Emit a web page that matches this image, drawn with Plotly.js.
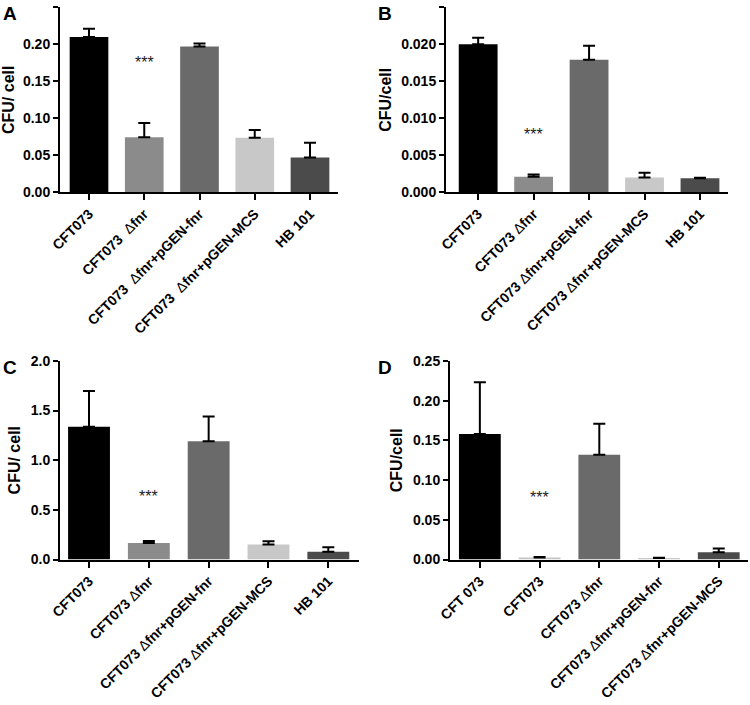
<!DOCTYPE html>
<html>
<head>
<meta charset="utf-8">
<script src="https://cdn.plot.ly/plotly-3.0.1.min.js"></script>
<style>html,body{margin:0;padding:0;background:#fff}#chart{width:750px;height:705px}</style>
</head>
<body>
<div id="chart"></div>
<script>
// ---- data ----
const D1 = '<span style="font-weight:normal">\u0394</span>';
const catsA = ['CFT073', 'CFT073  ' + D1 + 'fnr', 'CFT073  ' + D1 + 'fnr+pGEN-fnr', 'CFT073  ' + D1 + 'fnr+pGEN-MCS', 'HB 101'];
const catsB = ['CFT073', 'CFT073 ' + D1 + 'fnr', 'CFT073 ' + D1 + 'fnr+pGEN-fnr', 'CFT073 ' + D1 + 'fnr+pGEN-MCS', 'HB 101'];
const catsC = ['CFT073', 'CFT073 ' + D1 + 'fnr', 'CFT073 ' + D1 + 'fnr+pGEN-fnr', 'CFT073 ' + D1 + 'fnr+pGEN-MCS', 'HB 101'];
const catsD = ['CFT 073', 'CFT073', 'CFT073 ' + D1 + 'fnr', 'CFT073 ' + D1 + 'fnr+pGEN-fnr', 'CFT073 ' + D1 + 'fnr+pGEN-MCS'];

const valsA = [0.210, 0.0745, 0.197, 0.0737, 0.0469];
const errA  = [0.011, 0.019, 0.004, 0.0105, 0.020];
const valsB = [0.0200, 0.0021, 0.0179, 0.0020, 0.0019];
const errB  = [0.0009, 0.0003, 0.0019, 0.00065, 0.00005];
const valsC = [1.338, 0.167, 1.19, 0.15, 0.077];
const errC  = [0.36, 0.02, 0.25, 0.035, 0.047];
const valsD = [0.158, 0.0025, 0.132, 0.0018, 0.0092];
const errD  = [0.065, 0.0005, 0.039, 0.0004, 0.0046];

const colorsABC = ['#000000', '#8b8b8b', '#6a6a6a', '#c8c8c8', '#4b4b4b'];
const colorsD   = ['#000000', '#c4c4c4', '#6a6a6a', '#c8c8c8', '#4b4b4b'];

const sigA = {cat: 1, y: 0.176};
const sigB = {cat: 1, y: 0.0078};
const sigC = {cat: 1, y: 0.63};
const sigD = {cat: 1, y: 0.078};

// ---- build ----
const FONT = 'Liberation Sans, Arial, sans-serif';
function bar(cats, vals, errs, colors, xa, ya) {
  return {
    type: 'bar', x: cats, y: vals, xaxis: xa, yaxis: ya, width: 0.7,
    marker: {color: colors, line: {width: 0}},
    error_y: {type: 'data', symmetric: false, array: errs, arrayminus: errs.map(() => 0),
              color: '#000', thickness: 2, width: 6},
    hoverinfo: 'none', showlegend: false
  };
}
const data = [
  bar(catsA, valsA, errA, colorsABC, 'x', 'y'),
  bar(catsB, valsB, errB, colorsABC, 'x2', 'y2'),
  bar(catsC, valsC, errC, colorsABC, 'x3', 'y3'),
  bar(catsD, valsD, errD, colorsD, 'x4', 'y4')
];

function xax(dom, rng, anchor) {
  return {domain: dom, range: rng, anchor: anchor, type: 'category', showline: true, linecolor: '#000', linewidth: 2,
    ticks: 'outside', ticklen: 6, tickwidth: 2, tickcolor: '#000', tickangle: -45, showgrid: false, zeroline: false,
    tickfont: {family: FONT, size: 14, color: '#000', weight: 'bold'}, fixedrange: true};
}
function yax(dom, rng, dtick, fmt, title, anchor) {
  return {domain: dom, range: rng, anchor: anchor, showline: true, linecolor: '#000', linewidth: 2,
    ticks: 'outside', ticklen: 5, tickwidth: 2, tickcolor: '#000', dtick: dtick, tick0: 0, tickformat: fmt,
    showgrid: false, zeroline: false, fixedrange: true,
    tickfont: {family: FONT, size: 14, color: '#000', weight: 'bold'},
    title: {text: title, font: {family: FONT, size: 16, color: '#000', weight: 'bold'}, standoff: 6}};
}
const W = 750, H = 705;
const px = v => v / W, py = v => 1 - v / H;

const layout = {
  width: W, height: H, margin: {l: 0, r: 0, t: 0, b: 0}, paper_bgcolor: '#fff', plot_bgcolor: '#fff',
  font: {family: FONT, color: '#000'},
  xaxis:  xax([px(60), px(338)], [-0.525, 4.507], 'y'),
  yaxis:  yax([py(192.3), py(7.3)], [0, 0.25], 0.05, '.2f', 'CFU/ cell', 'x'),
  xaxis2: xax([px(446), px(727.7)], [-0.58, 4.5], 'y2'),
  yaxis2: yax([py(192.3), py(7.3)], [0, 0.025], 0.005, '.3f', 'CFU/cell', 'x2'),
  xaxis3: xax([px(60), px(359.3)], [-0.485, 4.518], 'y3'),
  yaxis3: yax([py(559.5), py(360.9)], [0, 2.0], 0.5, '.1f', 'CFU/ cell', 'x3'),
  xaxis4: xax([px(450), px(748)], [-0.5, 4.49], 'y4'),
  yaxis4: yax([py(559.5), py(360.9)], [0, 0.25], 0.05, '.2f', 'CFU/cell', 'x4'),
  bargap: 0.3,
  annotations: [
    {text: 'A', x: px(1), y: py(1), xref: 'paper', yref: 'paper', xanchor: 'left', yanchor: 'top', showarrow: false, font: {family: FONT, size: 19, weight: 'bold'}},
    {text: 'B', x: px(376), y: py(1), xref: 'paper', yref: 'paper', xanchor: 'left', yanchor: 'top', showarrow: false, font: {family: FONT, size: 19, weight: 'bold'}},
    {text: 'C', x: px(1), y: py(355), xref: 'paper', yref: 'paper', xanchor: 'left', yanchor: 'top', showarrow: false, font: {family: FONT, size: 19, weight: 'bold'}},
    {text: 'D', x: px(376), y: py(355), xref: 'paper', yref: 'paper', xanchor: 'left', yanchor: 'top', showarrow: false, font: {family: FONT, size: 19, weight: 'bold'}},
    {text: '***', x: catsA[sigA.cat], y: sigA.y, xref: 'x', yref: 'y', showarrow: false, font: {family: FONT, size: 16, color: '#222'}},
    {text: '***', x: catsB[sigB.cat], y: sigB.y, xref: 'x2', yref: 'y2', showarrow: false, font: {family: FONT, size: 16, color: '#222'}},
    {text: '***', x: catsC[sigC.cat], y: sigC.y, xref: 'x3', yref: 'y3', showarrow: false, font: {family: FONT, size: 16, color: '#222'}},
    {text: '***', x: catsD[sigD.cat], y: sigD.y, xref: 'x4', yref: 'y4', showarrow: false, font: {family: FONT, size: 16, color: '#222'}}
  ]
};
Plotly.newPlot('chart', data, layout, {staticPlot: true, displayModeBar: false});
</script>
</body>
</html>
